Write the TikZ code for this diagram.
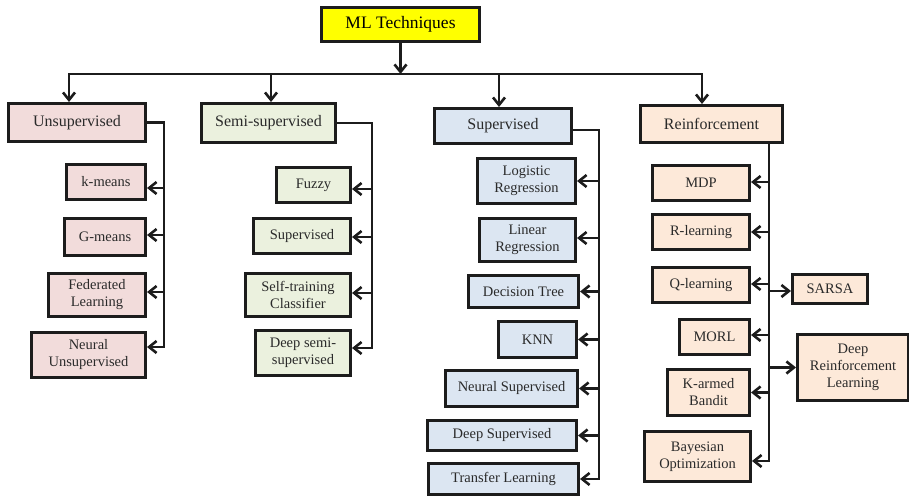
\documentclass[tikz,border=0pt]{standalone}
\usepackage{fontspec}
\setmainfont{Liberation Serif}
\usetikzlibrary{arrows.meta}

\definecolor{edge}{HTML}{1C1C1C}
\definecolor{txt}{HTML}{2A2A2A}
\definecolor{rootfill}{HTML}{FFFF00}
\definecolor{unsupfill}{HTML}{F2DCDB}
\definecolor{semifill}{HTML}{EBF1DE}
\definecolor{supfill}{HTML}{DCE6F2}
\definecolor{reinffill}{HTML}{FDE9D9}

\tikzset{
  box/.style={draw=edge, line width=2.6pt, align=center, inner sep=1pt, text=txt,
              font=\fontsize{14.5}{17}\selectfont},
  catbox/.style={box, font=\fontsize{16}{19}\selectfont},
  rootbox/.style={box, fill=rootfill, text=black, font=\fontsize{17.5}{20}\selectfont},
  wire/.style={draw=edge, line width=2.6pt, line cap=rect},
  arr/.style={draw=edge, line width=2.6pt, -{Straight Barb[length=7.5pt,width=12pt]}},
}

% box from its outer corners: name, x1, y1, x2, y2, style, text
\newcommand\mlbox[7]{%
  \pgfmathsetmacro\mlw{#4-#2-2.6}%
  \pgfmathsetmacro\mlh{#5-#3-2.6}%
  \node[#6, minimum width=\mlw pt, minimum height=\mlh pt] (#1) at ({(#2+#4)/2},{(#3+#5)/2}) {#7};}
% arrow from a bar into a box's east side: node, distance to bar, vertical shift
\newcommand\feedleft[3]{\draw[arr] ([xshift=#2pt,yshift=#3pt]#1.east) -- ([yshift=#3pt]#1.east);}
% arrow from a bar into a box's west side
\newcommand\feedright[3]{\draw[arr] ([xshift=-#2pt,yshift=#3pt]#1.west) -- ([yshift=#3pt]#1.west);}

\begin{document}
\begin{tikzpicture}[x=1pt, y=-1pt]
\useasboundingbox (0,0) rectangle (909,497);

% root and categories
\mlbox{root}{320}{6}{481}{43}{rootbox}{ML Techniques}
\mlbox{unsup}{7}{102}{147}{143}{catbox, fill=unsupfill}{Unsupervised}
\mlbox{semi}{200}{102}{337}{144}{catbox, fill=semifill}{Semi-supervised}
\mlbox{sup}{433}{107}{573}{145}{catbox, fill=supfill}{Supervised}
\mlbox{reinf}{639}{104}{784}{144}{catbox, fill=reinffill}{Reinforcement}

% distribution line under the root
\coordinate (d1) at (69,74);
\coordinate (d2) at (271,74);
\coordinate (d3) at (499,74);
\coordinate (d4) at (702,74);
\draw[wire] (d1) -- (d4);
\draw[arr] (root.south) -- (root.south |- d1);
\draw[arr] (d1) -- (d1 |- unsup.north);
\draw[arr] (d2) -- (d2 |- semi.north);
\draw[arr] (d3) -- (d3 |- sup.north);
\draw[arr] (d4) -- (d4 |- reinf.north);

% unsupervised branch
\mlbox{kmeans}{65}{163}{147}{201}{box, fill=unsupfill}{k-means}
\mlbox{gmeans}{63}{217}{147}{257}{box, fill=unsupfill}{G-means}
\mlbox{fedl}{47}{272}{147}{318}{box, fill=unsupfill}{Federated\\Learning}
\mlbox{nunsup}{30}{331}{147}{379}{box, fill=unsupfill}{Neural\\Unsupervised}
\coordinate (ubar) at (164,347);
\draw[wire] (unsup.east) -| (ubar);
\feedleft{kmeans}{17}{-6}
\feedleft{gmeans}{17}{2}
\feedleft{fedl}{17}{3}
\feedleft{nunsup}{17}{8}

% semi-supervised branch
\mlbox{fuzzy}{275}{166}{352}{204}{box, fill=semifill}{Fuzzy}
\mlbox{ssup}{252}{217}{352}{255}{box, fill=semifill}{Supervised}
\mlbox{selft}{244}{272}{352}{318}{box, fill=semifill}{Self-training\\Classifier}
\mlbox{dsemi}{254}{329}{352}{377}{box, fill=semifill}{Deep semi-\\supervised}
\coordinate (sbar) at (372,348);
\draw[wire] (semi.east) -| (sbar);
\feedleft{fuzzy}{20}{-4}
\feedleft{ssup}{20}{-1}
\feedleft{selft}{20}{2}
\feedleft{dsemi}{20}{5}

% supervised branch
\mlbox{logreg}{476}{157}{577}{205}{box, fill=supfill}{Logistic\\Regression}
\mlbox{linreg}{478}{217}{577}{263}{box, fill=supfill}{Linear\\Regression}
\mlbox{dtree}{467}{274}{580}{309}{box, fill=supfill}{Decision Tree}
\mlbox{knn}{497}{320}{578}{359}{box, fill=supfill}{KNN}
\mlbox{nsup}{444}{369}{579}{408}{box, fill=supfill}{Neural Supervised}
\mlbox{dsup}{426}{419}{578}{452}{box, fill=supfill}{Deep Supervised}
\mlbox{transfer}{427}{462}{580}{496}{box, fill=supfill}{Transfer Learning}
\coordinate (pbar) at (599,479);
\draw[wire] ([yshift=-4pt]sup.east) -| (pbar);
\feedleft{logreg}{22}{0}
\feedleft{linreg}{22}{2}
\feedleft{dtree}{19}{0}
\feedleft{knn}{21}{0}
\feedleft{nsup}{20}{0}
\feedleft{dsup}{21}{0}
\feedleft{transfer}{19}{0}

% reinforcement branch
\mlbox{mdp}{651}{164}{751}{202}{box, fill=reinffill}{MDP}
\mlbox{rlearn}{651}{213}{751}{251}{box, fill=reinffill}{R-learning}
\mlbox{qlearn}{651}{266}{751}{304}{box, fill=reinffill}{Q-learning}
\mlbox{morl}{678}{318}{751}{356}{box, fill=reinffill}{MORL}
\mlbox{kab}{666}{368}{751}{417}{box, fill=reinffill}{K-armed\\Bandit}
\mlbox{bayes}{643}{430}{752}{483}{box, fill=reinffill}{Bayesian\\Optimization}
\mlbox{sarsa}{791}{273}{869}{305}{box, fill=reinffill}{SARSA}
\mlbox{drl}{796}{333}{910}{402}{box, fill=reinffill}{Deep\\Reinforcement\\Learning}
\coordinate (rbar) at (769,461);
\draw[wire] (rbar |- reinf.south) -- (rbar);
\feedleft{mdp}{18}{1}
\feedleft{rlearn}{18}{0}
\feedleft{qlearn}{18}{1}
\feedleft{morl}{18}{2}
\feedleft{kab}{18}{0}
\feedleft{bayes}{17}{-4.5}
\feedright{sarsa}{22}{-2}
\feedright{drl}{27}{0}
\end{tikzpicture}
\end{document}
